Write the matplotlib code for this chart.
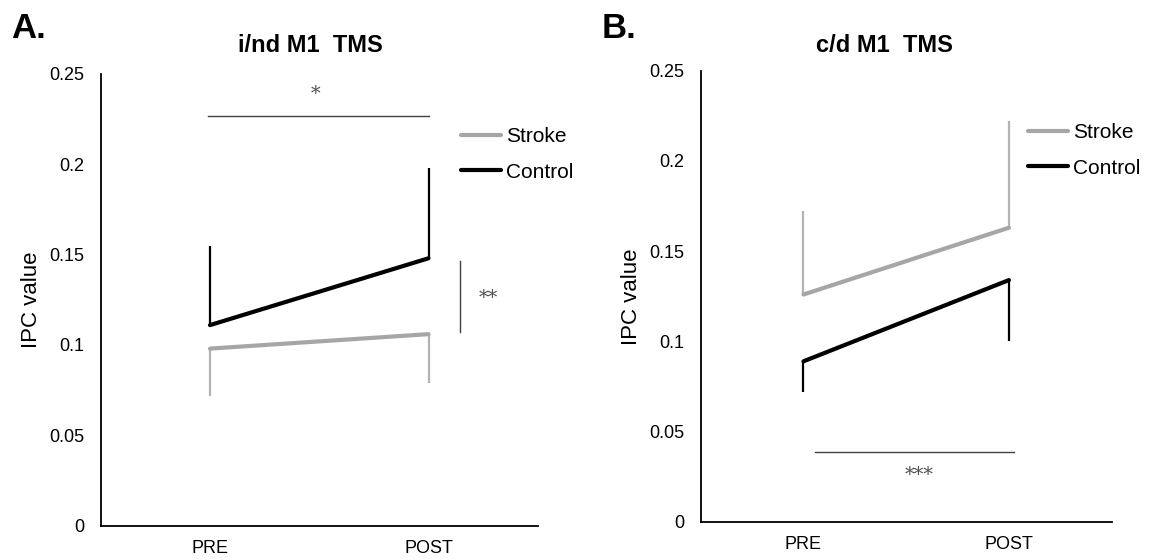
import matplotlib
matplotlib.use('Agg')
import matplotlib.pyplot as plt

plt.rcParams['font.family'] = ['Liberation Sans', 'DejaVu Sans']

# data
conditions = ['PRE', 'POST']
yticks = [0, 0.05, 0.1, 0.15, 0.2, 0.25]
ytick_labels = ['0', '0.05', '0.1', '0.15', '0.2', '0.25']

a_stroke = [0.098, 0.106]
a_stroke_err = [0.026, 0.027]      # drawn downward
a_control = [0.111, 0.148]
a_control_err = [0.044, 0.050]     # drawn upward

b_stroke = [0.126, 0.163]
b_stroke_err = [0.046, 0.059]      # drawn upward
b_control = [0.089, 0.134]
b_control_err = [0.017, 0.034]     # drawn downward

gray = '#a6a6a6'
zero = [0, 0]

fig = plt.figure(figsize=(11.55, 5.6), dpi=100)
axA = fig.add_axes([0.0872, 0.0613, 0.3784, 0.8066])
axB = fig.add_axes([0.6067, 0.0679, 0.3558, 0.8059])
x = list(range(len(conditions)))


def style(ax):
    ax.set_xlim(-0.5, 1.5)
    ax.set_ylim(0, 0.25)
    ax.set_xticks(x)
    ax.set_xticklabels(conditions, fontsize=13)
    ax.set_yticks(yticks)
    ax.set_yticklabels(ytick_labels, fontsize=13)
    ax.tick_params(axis='y', length=0, pad=12)
    ax.tick_params(axis='x', length=0, pad=10)
    for s in ['top', 'right']:
        ax.spines[s].set_visible(False)
    for s in ['left', 'bottom']:
        ax.spines[s].set_linewidth(1.3)
        ax.spines[s].set_color('black')
    ax.set_ylabel('IPC value', fontsize=16, labelpad=5)


# panel A
axA.errorbar(x, a_stroke, yerr=[a_stroke_err, zero], fmt='none',
             ecolor='#b3b3b3', elinewidth=1.6, capsize=0)
axA.errorbar(x, a_control, yerr=[zero, a_control_err], fmt='none',
             ecolor='black', elinewidth=1.6, capsize=0)
axA.plot(x, a_stroke, color=gray, lw=3, label='Stroke', solid_capstyle='round')
axA.plot(x, a_control, color='black', lw=3, label='Control', solid_capstyle='round')
style(axA)
axA.plot([-0.01, 1.0], [0.227, 0.227], color='#404040', lw=1)
axA.text(0.485, 0.239, '*', fontsize=14, ha='center', va='center',
         color='#505050', family='DejaVu Serif')
axA.plot([1.145, 1.145], [0.107, 0.1465], color='#404040', lw=1, clip_on=False)
axA.text(1.276, 0.126, '**', fontsize=14, ha='center', va='center',
         color='#505050', family='DejaVu Serif')
axA.text(0.479, 1.064, 'i/nd M1  TMS', transform=axA.transAxes, fontsize=17,
         fontweight='bold', ha='center', va='center')
axA.legend(loc='upper left', bbox_to_anchor=(0.8245, 0.8816), frameon=False,
           fontsize=15, handlelength=1.92, handletextpad=0.25, borderpad=0,
           borderaxespad=0, labelspacing=0.78)

# panel B
axB.errorbar(x, b_stroke, yerr=[zero, b_stroke_err], fmt='none',
             ecolor='#b3b3b3', elinewidth=1.6, capsize=0)
axB.errorbar(x, b_control, yerr=[b_control_err, zero], fmt='none',
             ecolor='black', elinewidth=1.6, capsize=0)
axB.plot(x, b_stroke, color=gray, lw=3, label='Stroke', solid_capstyle='round')
axB.plot(x, b_control, color='black', lw=3, label='Control', solid_capstyle='round')
style(axB)
axB.plot([0.057, 1.027], [0.039, 0.039], color='#404040', lw=1)
axB.text(0.563, 0.026, '***', fontsize=14, ha='center', va='center',
         color='#505050', family='DejaVu Serif')
axB.text(0.447, 1.055, 'c/d M1  TMS', transform=axB.transAxes, fontsize=17,
         fontweight='bold', ha='center', va='center')
axB.legend(loc='upper left', bbox_to_anchor=(0.796, 0.883), frameon=False,
           fontsize=15, handlelength=1.92, handletextpad=0.25, borderpad=0,
           borderaxespad=0, labelspacing=0.78)

fig.text(0.0100, 0.95, 'A.', fontsize=25, fontweight='bold', ha='left', va='center')
fig.text(0.521, 0.95, 'B.', fontsize=25, fontweight='bold', ha='left', va='center')

fig.savefig('out.png', dpi=100)
